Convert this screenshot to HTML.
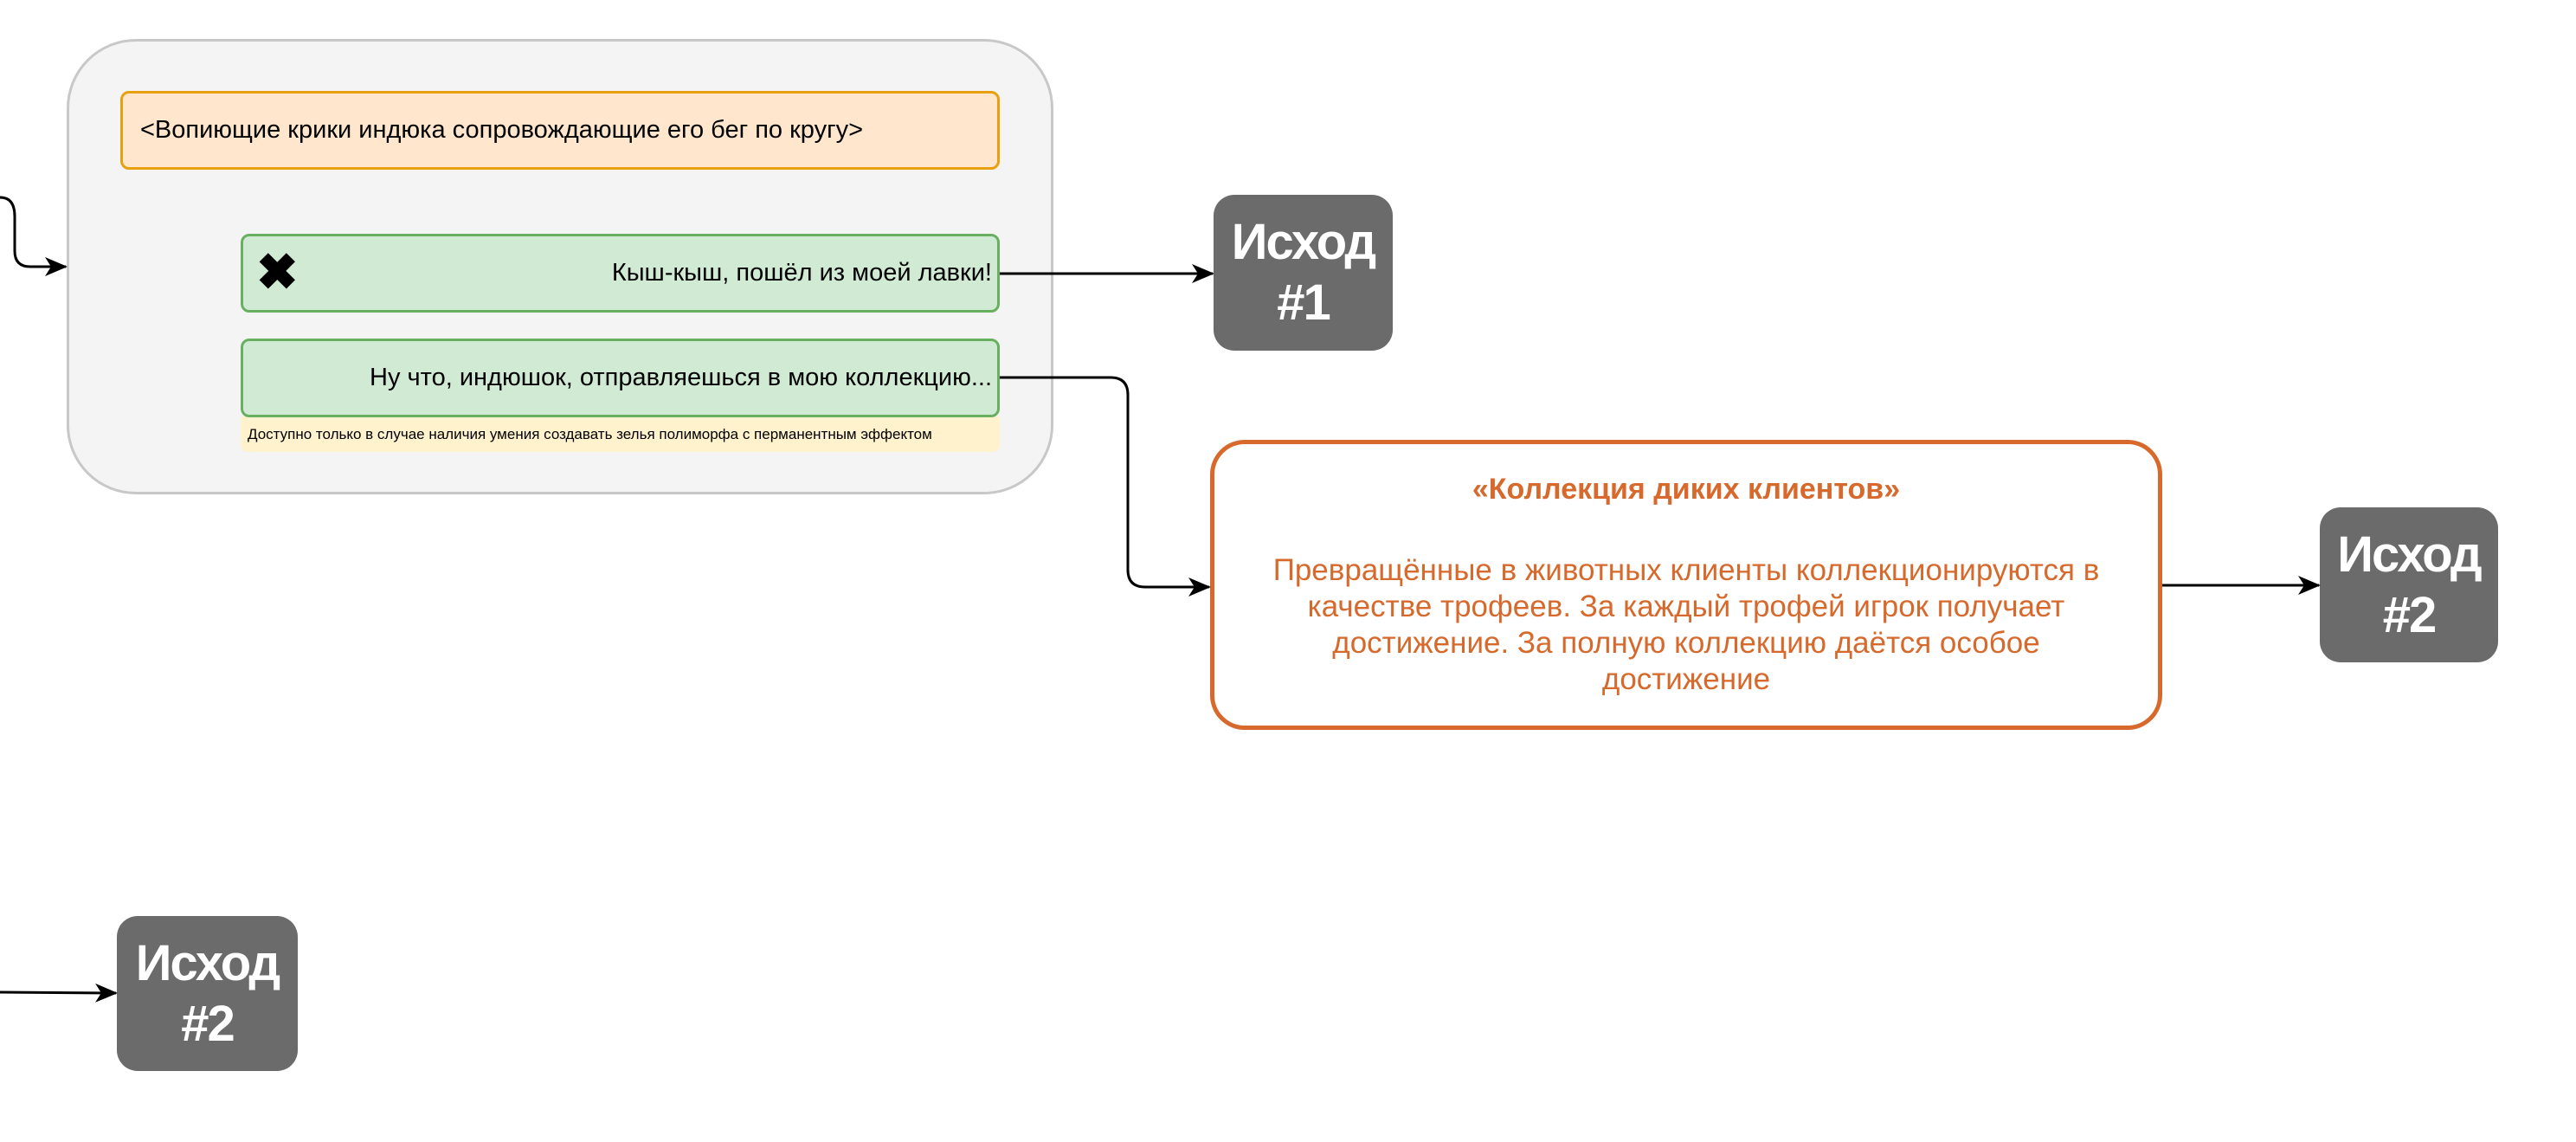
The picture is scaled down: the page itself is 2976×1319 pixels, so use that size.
<!DOCTYPE html>
<html><head><meta charset="utf-8"><style>
body{margin:0;width:2976px;height:1319px;background:#fff;position:relative;overflow:hidden;font-family:"Liberation Sans",sans-serif}
.a{position:absolute;box-sizing:border-box}
.out{background:#6b6b6b;border-radius:24px;color:#fff;font-weight:bold;font-size:58px;line-height:70px;display:flex;align-items:center;justify-content:center;text-align:center;letter-spacing:-2px}
</style></head><body>
<div class="a" style="left:77px;top:45px;width:1140px;height:526px;background:#f4f4f4;border:3px solid #c8c8c8;border-radius:80px"></div>
<div class="a" style="left:139px;top:105px;width:1016px;height:91px;background:#ffe6cc;border:3px solid #e8a010;border-radius:10px;font-size:29px;padding-left:20px;display:flex;align-items:center">&lt;Вопиющие крики индюка сопровождающие его бег по кругу&gt;</div>
<div class="a" style="left:278px;top:270px;width:877px;height:91px;background:#d0ead4;border:3px solid #68b060;border-radius:10px;font-size:29px;padding-right:6px;display:flex;align-items:center;justify-content:flex-end">Кыш-кыш, пошёл из моей лавки!</div>
<div class="a" style="left:296px;top:286px;font-size:58px;font-weight:bold;line-height:58px">✖</div>
<div class="a" style="left:278px;top:481px;width:877px;height:41px;background:#fff2cc;border-radius:0 0 8px 8px;font-size:17px;padding-left:8px;display:flex;align-items:center">Доступно только в случае наличия умения создавать зелья полиморфа с перманентным эффектом</div>
<div class="a" style="left:278px;top:391px;width:877px;height:91px;background:#d0ead4;border:3px solid #68b060;border-radius:10px;font-size:29px;padding-right:6px;display:flex;align-items:center;justify-content:flex-end">Ну что, индюшок, отправляешься в мою коллекцию...</div>
<div class="a out" style="left:1402px;top:225px;width:207px;height:180px">Исход<br>#1</div>
<div class="a out" style="left:2680px;top:586px;width:206px;height:179px">Исход<br>#2</div>
<div class="a out" style="left:135px;top:1058px;width:209px;height:179px">Исход<br>#2</div>
<div class="a" style="left:1398px;top:508px;width:1100px;height:335px;border:5px solid #d6692b;border-radius:40px;background:#fff;color:#d6692b;text-align:center;font-size:35px;line-height:42px">
<div style="position:absolute;left:0;right:0;top:31px;font-weight:bold;font-size:34px">«Коллекция диких клиентов»</div>
<div style="position:absolute;left:35px;right:35px;top:125px">Превращённые в животных клиенты коллекционируются в качестве трофеев. За каждый трофей игрок получает достижение. За полную коллекцию даётся особое достижение</div>
</div>
<svg class="a" style="left:0;top:0" width="2976" height="1319">
<defs><marker id="m" markerWidth="26" markerHeight="26" refX="24" refY="13" orient="auto" markerUnits="userSpaceOnUse" viewBox="0 0 26 26"><path d="M0,2 L26,13 L0,24 L7,13Z" fill="#000"/></marker></defs>
<g fill="none" stroke="#000" stroke-width="3">
<path d="M0,228 Q17,228 17,250 L17,290 Q17,308 35,308 L76,308" marker-end="url(#m)" />
<path d="M1155,316 L1401,316" marker-end="url(#m)"/>
<path d="M1155,436 L1283,436 Q1303,436 1303,456 L1303,658 Q1303,678 1323,678 L1397,678" marker-end="url(#m)"/>
<path d="M2498,676 L2679,676" marker-end="url(#m)"/>
<path d="M0,1146 L134,1147" marker-end="url(#m)"/>
</g></svg>
</body></html>
